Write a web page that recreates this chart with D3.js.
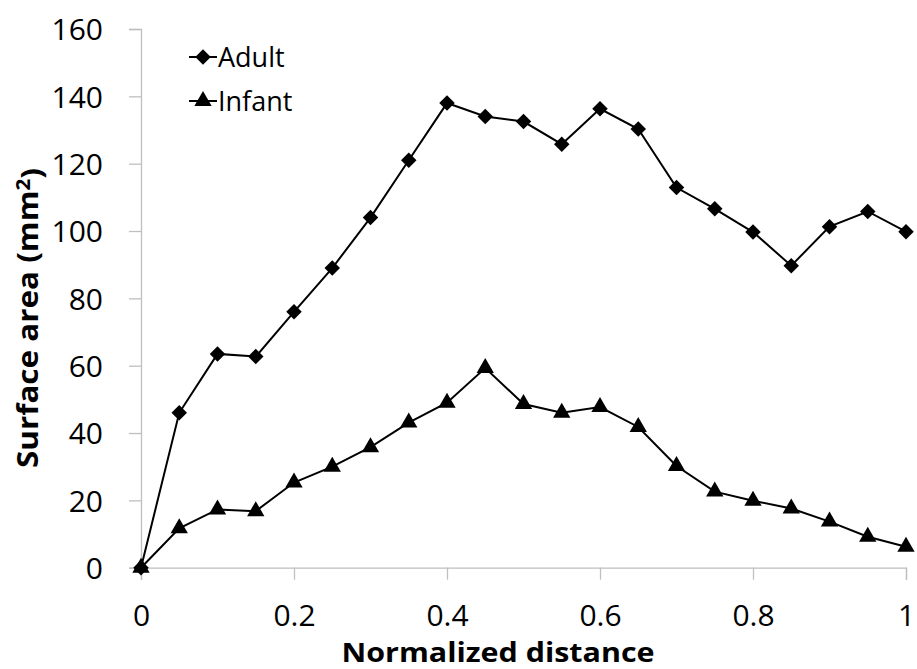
<!DOCTYPE html>
<html>
<head>
<meta charset="utf-8">
<script src="https://cdn.jsdelivr.net/npm/d3@7"></script>
<style>
  html, body { margin: 0; padding: 0; background: #fff; }
  svg { display: block; }
  text { font-family: "Open Sans", "Liberation Sans", sans-serif; fill: #000; }
</style>
</head>
<body>
<svg id="chart" width="917" height="669"></svg>
<script>
// Surface area along the normalized distance, adult vs infant
const distance = [0, 0.05, 0.1, 0.15, 0.2, 0.25, 0.3, 0.35, 0.4, 0.45, 0.5,
                  0.55, 0.6, 0.65, 0.7, 0.75, 0.8, 0.85, 0.9, 0.95, 1];
const adult  = [0, 46, 63.5, 62.7, 76, 89, 104, 121, 138, 134, 132.5,
                125.8, 136.3, 130.3, 112.9, 106.6, 99.7, 89.7, 101.3, 105.8, 99.8];
const infant = [0, 11.7, 17.3, 16.8, 25.3, 30, 35.8, 43.1, 49, 59.3, 48.6,
                46, 47.7, 41.8, 30.2, 22.6, 19.9, 17.6, 13.7, 9.2, 6.2];
const xTicks = [0, 0.2, 0.4, 0.6, 0.8, 1];
const yTicks = [0, 20, 40, 60, 80, 100, 120, 140, 160];
const seriesNames = ["Adult", "Infant"];

const svg = d3.select("#chart");
const plot = { left: 141, right: 906, top: 29, bottom: 567.7 };

const x = d3.scaleLinear().domain([0, 1]).range([plot.left, plot.right]);
const y = d3.scaleLinear().domain([0, 160]).range([plot.bottom, plot.top]);

const axisColor = "#bfbfbf";
const tickFont = "30px";

// Y axis
const yAxis = svg.append("g")
  .attr("transform", `translate(${plot.left},0)`)
  .call(d3.axisLeft(y).tickValues(yTicks).tickSize(12).tickPadding(26).tickFormat(d3.format("d")));
yAxis.select(".domain").attr("stroke", axisColor).attr("stroke-width", 1.3);
yAxis.selectAll(".tick line").attr("stroke", axisColor).attr("stroke-width", 1.3);
yAxis.selectAll(".tick text").style("font-size", tickFont).attr("dy", "0.36em");

// X axis
const xAxis = svg.append("g")
  .attr("transform", `translate(0,${plot.bottom})`)
  .call(d3.axisBottom(x).tickValues(xTicks).tickSize(12).tickPadding(25).tickFormat(d => d === 0 || d === 1 ? String(d) : d3.format(".1f")(d)));
xAxis.select(".domain").attr("stroke", axisColor).attr("stroke-width", 1.3);
xAxis.selectAll(".tick line").attr("stroke", axisColor).attr("stroke-width", 1.3);
xAxis.selectAll(".tick text").style("font-size", tickFont).attr("dy", "0.71em");

// Axis titles
svg.append("text")
  .attr("x", 498).attr("y", 662)
  .attr("text-anchor", "middle")
  .attr("textLength", 313).attr("lengthAdjust", "spacingAndGlyphs")
  .style("font-size", "26px").style("font-weight", "bold")
  .text("Normalized distance");

const yTitle = svg.append("text")
  .attr("transform", "translate(38,318) rotate(-90)")
  .attr("text-anchor", "middle")
  .attr("textLength", 300).attr("lengthAdjust", "spacingAndGlyphs")
  .style("font-size", "29px").style("font-weight", "bold");
yTitle.append("tspan").text("Surface area (mm");
yTitle.append("tspan").attr("dy", "-0.4em").style("font-size", "19px").text("2");
yTitle.append("tspan").attr("dy", "0.4em").text(")");

// Series
const line = d3.line().x((d, i) => x(distance[i])).y(d => y(d));
const diamond = d3.symbol().type(d3.symbolSquare).size(120);
const triangle = d3.symbol().type(d3.symbolTriangle).size(130);

function drawSeries(values, sym, rotate) {
  const g = svg.append("g");
  g.append("path").datum(values)
    .attr("d", line).attr("fill", "none")
    .attr("stroke", "#000").attr("stroke-width", 2);
  g.selectAll("path.m").data(values).enter().append("path")
    .attr("class", "m")
    .attr("d", sym)
    .attr("transform", (d, i) => `translate(${x(distance[i])},${y(d)}) rotate(${rotate})`)
    .attr("fill", "#000");
}
drawSeries(adult, diamond, 45);
drawSeries(infant, triangle, 0);

// Legend
const legend = svg.append("g");
const legendItems = [
  { name: seriesNames[0], sym: diamond, rot: 45, cy: 57 },
  { name: seriesNames[1], sym: triangle, rot: 0, cy: 101 }
];
legendItems.forEach(it => {
  legend.append("line")
    .attr("x1", 189).attr("x2", 217).attr("y1", it.cy).attr("y2", it.cy)
    .attr("stroke", "#000").attr("stroke-width", 2);
  legend.append("path").attr("d", it.sym)
    .attr("transform", `translate(203,${it.cy}) rotate(${it.rot})`)
    .attr("fill", "#000");
  legend.append("text")
    .attr("x", 218).attr("y", it.cy).attr("dy", "0.36em")
    .style("font-size", "27px")
    .text(it.name);
});
</script>
</body>
</html>
